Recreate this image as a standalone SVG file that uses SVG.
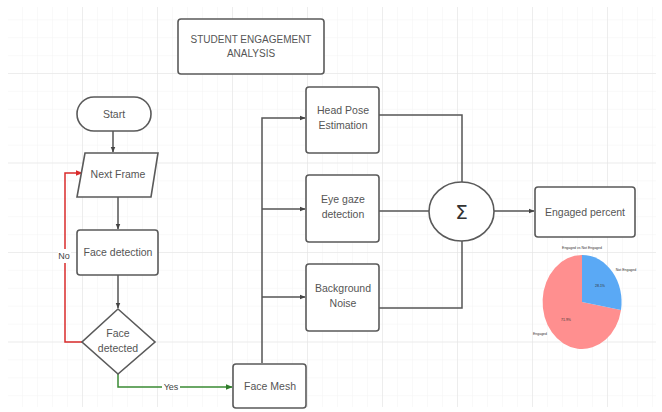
<svg xmlns="http://www.w3.org/2000/svg" width="662" height="412" viewBox="0 0 662 412">
<defs>
<pattern id="minor" x="8" y="-15.5" width="15" height="17.9" patternUnits="userSpaceOnUse">
<path d="M15 0V17.9M0 17.9H15" fill="none" stroke="#f0f0f0" stroke-width="0.8"/>
</pattern>
<pattern id="major" x="8" y="-15.5" width="75" height="89.5" patternUnits="userSpaceOnUse">
<path d="M75 0V89.5M0 89.5H75" fill="none" stroke="#e2e2e2" stroke-width="1"/>
</pattern>
<marker id="ah" viewBox="0 0 10 10" refX="9" refY="5" markerWidth="6" markerHeight="6" orient="auto" markerUnits="userSpaceOnUse">
<path d="M0 1L10 5L0 9Z" fill="#444"/>
</marker>
<marker id="ahr" viewBox="0 0 10 10" refX="9" refY="5" markerWidth="7" markerHeight="7" orient="auto" markerUnits="userSpaceOnUse">
<path d="M0 1L10 5L0 9Z" fill="#d92b2b"/>
</marker>
<marker id="ahg" viewBox="0 0 10 10" refX="9" refY="5" markerWidth="7" markerHeight="7" orient="auto" markerUnits="userSpaceOnUse">
<path d="M0 1L10 5L0 9Z" fill="#2f7d2a"/>
</marker>
</defs>
<style>
.shape{fill:#fff;stroke:#5a5a5a;stroke-width:1.6}
.t{font-family:"Liberation Sans",Arial,sans-serif;font-size:10.5px;fill:#555;text-anchor:middle;dominant-baseline:central}
.title{font-size:10px}
.c{fill:none;stroke:#555;stroke-width:1.5}
.lbl{font-family:"Liberation Sans",Arial,sans-serif;font-size:9px;fill:#444;text-anchor:middle;dominant-baseline:central}
.pt{font-family:"Liberation Sans",Arial,sans-serif;font-size:3.5px;fill:#333;text-anchor:middle;dominant-baseline:central}
</style>
<rect width="662" height="412" fill="#fff"/>
<rect x="8" y="7" width="648" height="400" fill="url(#minor)"/>
<rect x="8" y="7" width="648" height="400" fill="url(#major)"/>

<g id="connectors">
<path class="c" d="M113 131V152" marker-end="url(#ah)"/>
<path class="c" d="M118 197V229" marker-end="url(#ah)"/>
<path class="c" d="M118 275V308" marker-end="url(#ah)"/>
<path d="M82 342H65V173H82" fill="none" stroke="#d92b2b" stroke-width="1.5" marker-end="url(#ahr)"/>
<path d="M118 374V387H232" fill="none" stroke="#3a8a33" stroke-width="1.5" marker-end="url(#ahg)"/>
<path class="c" d="M262 363V118H305" marker-end="url(#ah)"/>
<path class="c" d="M262 209H305" marker-end="url(#ah)"/>
<path class="c" d="M262 297H305" marker-end="url(#ah)"/>
<path class="c" d="M379 115H462V182"/>
<path class="c" d="M379 211H429" stroke-width="2"/>
<path class="c" d="M379 308H462V241"/>
<path class="c" d="M494 211H534" stroke-width="1" marker-end="url(#ah)"/>
<rect x="58" y="249" width="13" height="14" fill="#fff"/>
<text class="lbl" x="64" y="256">No</text>
<rect x="162" y="381" width="18" height="12" fill="#fff"/>
<text class="lbl" x="171" y="387">Yes</text>
</g>

<g id="title">
<rect class="shape" x="178" y="19" width="146" height="55" rx="3"/>
<text class="t title" x="251" y="39">STUDENT ENGAGEMENT</text>
<text class="t title" x="251" y="53">ANALYSIS</text>
</g>
<g id="start">
<rect class="shape" x="77" y="97" width="74" height="34" rx="17"/>
<text class="t" x="114" y="114">Start</text>
</g>
<g id="next-frame">
<polygon class="shape" points="85,153 158,153 151,197 77,197"/>
<text class="t" x="118" y="174">Next Frame</text>
</g>
<g id="face-detection">
<rect class="shape" x="77" y="230" width="81" height="45" rx="3"/>
<text class="t" x="118" y="252">Face detection</text>
</g>
<g id="face-detected">
<polygon class="shape" points="118,309 155,342 118,374 82,342"/>
<text class="t" x="118" y="333">Face</text>
<text class="t" x="118" y="348">detected</text>
</g>
<g id="face-mesh">
<rect class="shape" x="233" y="364" width="73" height="44" rx="3"/>
<text class="t" x="270" y="386">Face Mesh</text>
</g>
<g id="head-pose">
<rect class="shape" x="306" y="87" width="73" height="66" rx="3"/>
<text class="t" x="343" y="110">Head Pose</text>
<text class="t" x="343" y="125">Estimation</text>
</g>
<g id="eye-gaze">
<rect class="shape" x="306" y="175" width="73" height="67" rx="3"/>
<text class="t" x="343" y="199">Eye gaze</text>
<text class="t" x="343" y="214">detection</text>
</g>
<g id="background-noise">
<rect class="shape" x="306" y="264" width="73" height="67" rx="3"/>
<text class="t" x="343" y="288">Background</text>
<text class="t" x="343" y="303">Noise</text>
</g>
<g id="sum">
<ellipse class="shape" cx="461.5" cy="211.5" rx="32.5" ry="29.5"/>
<text x="461.5" y="212" font-family="DejaVu Sans,sans-serif" font-size="20" fill="#333" text-anchor="middle" dominant-baseline="central">Σ</text>
</g>
<g id="engaged-percent">
<rect class="shape" x="535" y="187" width="100" height="50" rx="3"/>
<text class="t" x="585" y="212">Engaged percent</text>
</g>
<g id="pie">
<text class="pt" x="582" y="248">Engaged vs Not Engaged</text>
<path d="M582 302L621 310A39.5 47 0 1 1 582 255Z" fill="#ff8f8f"/>
<path d="M582 302L582 255A39.5 47 0 0 1 621 310Z" fill="#5aa9f5"/>
<text class="pt" x="626" y="270">Not Engaged</text>
<text class="pt" x="600" y="286">28.1%</text>
<text class="pt" x="566" y="320">71.9%</text>
<text class="pt" x="540" y="334">Engaged</text>
</g>
</svg>
